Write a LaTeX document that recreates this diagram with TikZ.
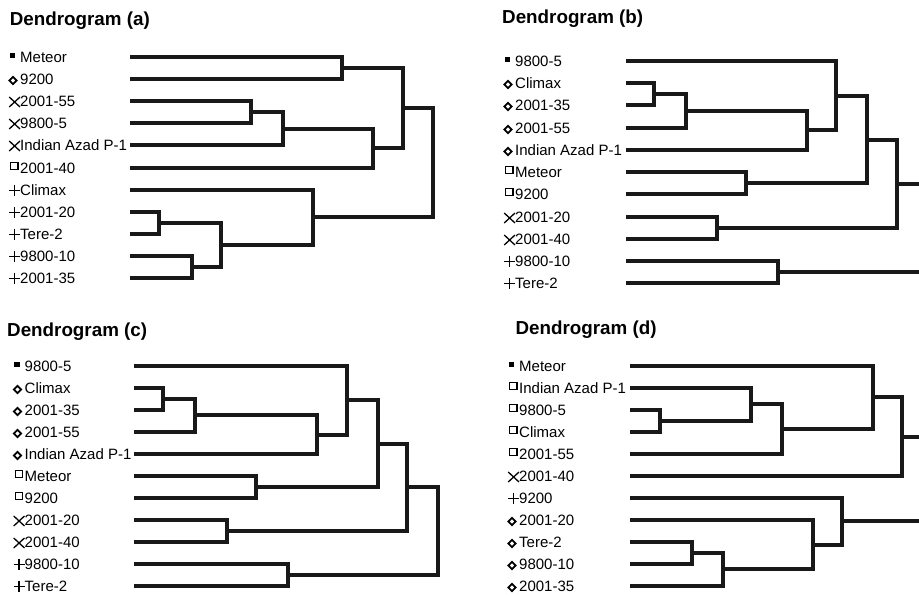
\documentclass[tikz,border=0pt]{standalone}
\usepackage{fontspec}
\setmainfont{Liberation Sans}

% one leaf: label node, its marker, and the start of its branch line
\newcommand\leafrow[6]{%
  \node[lbl] (#1) at (#3,#5+5.5) {#6};
  \pic at (#3,#5) {#2};
  \coordinate (#1e) at (#4,#5);
}
% bracket joining two children at a merge point
\newcommand\brk[3]{\draw[br] (#1) -| (#2) |- (#3);}

\tikzset{
  lbl/.style={anchor=base west, inner sep=0pt, text=black,
              font=\fontsize{15}{16}\selectfont},
  ttl/.style={anchor=base west, inner sep=0pt, text=black,
              font=\bfseries\fontsize{18.8}{20}\selectfont},
  br/.style={line width=3.2pt, draw=black!90},
  fsq/.pic={\fill[black] (-10.2,-4) rectangle (-4.8,1.4);},
  dia/.pic={\draw[line width=1.8pt, black] (-7,-2.1) -- (-3.4,1.5) -- (-7,5.1) -- (-10.6,1.5) -- cycle;},
  xmk/.pic={\draw[line width=1.3pt, black] (-10.8,-4) -- (0,6) (-10.8,6) -- (0,-4);},
  osq/.pic={\draw[line width=1.3pt, black] (-9.2,-5.6) rectangle (-2,1.6);},
  plm/.pic={\draw[line width=1.3pt, black] (-10.8,0.3) -- (0,0.3) (-5.4,-5.1) -- (-5.4,5.7);},
}

\begin{document}
\begin{tikzpicture}[x=1pt, y=-1pt]
\fill[white] (0,0) rectangle (919,596);
\useasboundingbox (0,0) rectangle (919,596);
\coordinate (edge) at (919,0);

% ---------------- Dendrogram (a) ----------------
\node[ttl] (ta) at (9.7,26) {Dendrogram (a)};
\leafrow{a0}{fsq}{20}{130}{57}{Meteor}
\leafrow{a1}{dia}{20}{130}{79}{9200}
\leafrow{a2}{xmk}{20}{130}{101}{2001-55}
\leafrow{a3}{xmk}{20}{130}{123}{9800-5}
\leafrow{a4}{xmk}{20}{130}{145}{Indian Azad P-1}
\leafrow{a5}{osq}{20}{130}{168}{2001-40}
\leafrow{a6}{plm}{20}{130}{190}{Climax}
\leafrow{a7}{plm}{20}{130}{212}{2001-20}
\leafrow{a8}{plm}{20}{130}{234}{Tere-2}
\leafrow{a9}{plm}{20}{130}{256}{9800-10}
\leafrow{a10}{plm}{20}{130}{278}{2001-35}
\coordinate (aj1) at (342,68);  \brk{a0e}{aj1}{a1e}
\coordinate (aj2) at (251,112); \brk{a2e}{aj2}{a3e}
\coordinate (aj3) at (283,129); \brk{aj2}{aj3}{a4e}
\coordinate (aj4) at (373,148); \brk{aj3}{aj4}{a5e}
\coordinate (aj5) at (403,108); \brk{aj1}{aj5}{aj4}
\coordinate (aj6) at (159,223); \brk{a7e}{aj6}{a8e}
\coordinate (aj7) at (192,267); \brk{a9e}{aj7}{a10e}
\coordinate (aj8) at (221,245); \brk{aj6}{aj8}{aj7}
\coordinate (aj9) at (313,217); \brk{a6e}{aj9}{aj8}
\coordinate (aj10) at (433,163); \brk{aj5}{aj10}{aj9}

% ---------------- Dendrogram (b) ----------------
\node[ttl] (tb) at (502,23.3) {Dendrogram (b)};
\leafrow{b0}{fsq}{515}{626}{61}{9800-5}
\leafrow{b1}{dia}{515}{626}{83}{Climax}
\leafrow{b2}{dia}{515}{626}{105}{2001-35}
\leafrow{b3}{dia}{515}{626}{128}{2001-55}
\leafrow{b4}{dia}{515}{626}{150}{Indian Azad P-1}
\leafrow{b5}{osq}{515}{626}{172}{Meteor}
\leafrow{b6}{osq}{515}{626}{194}{9200}
\leafrow{b7}{xmk}{515}{626}{217}{2001-20}
\leafrow{b8}{xmk}{515}{626}{239}{2001-40}
\leafrow{b9}{plm}{515}{626}{261}{9800-10}
\leafrow{b10}{plm}{515}{626}{283}{Tere-2}
\coordinate (bj1) at (654,94);  \brk{b1e}{bj1}{b2e}
\coordinate (bj2) at (686,111); \brk{bj1}{bj2}{b3e}
\coordinate (bj3) at (807,130); \brk{bj2}{bj3}{b4e}
\coordinate (bj4) at (836,96);  \brk{b0e}{bj4}{bj3}
\coordinate (bj5) at (746,183); \brk{b5e}{bj5}{b6e}
\coordinate (bj6) at (867,140); \brk{bj4}{bj6}{bj5}
\coordinate (bj7) at (717,228); \brk{b7e}{bj7}{b8e}
\coordinate (bj8) at (897,184); \brk{bj6}{bj8}{bj7}
\coordinate (bj9) at (778,272); \brk{b9e}{bj9}{b10e}
\draw[br] (bj8) -- (bj8 -| edge);
\draw[br] (bj9) -- (bj9 -| edge);

% ---------------- Dendrogram (c) ----------------
\node[ttl] (tc) at (7,336) {Dendrogram (c)};
\leafrow{c0}{fsq}{24.5}{134}{366}{9800-5}
\leafrow{c1}{dia}{24.5}{134}{388}{Climax}
\leafrow{c2}{dia}{24.5}{134}{410}{2001-35}
\leafrow{c3}{dia}{24.5}{134}{432}{2001-55}
\leafrow{c4}{dia}{24.5}{134}{454}{Indian Azad P-1}
\leafrow{c5}{osq}{24.5}{134}{476}{Meteor}
\leafrow{c6}{osq}{24.5}{134}{498}{9200}
\leafrow{c7}{xmk}{24.5}{134}{520}{2001-20}
\leafrow{c8}{xmk}{24.5}{134}{542}{2001-40}
\leafrow{c9}{plm}{24.5}{134}{564}{9800-10}
\leafrow{c10}{plm}{24.5}{134}{586}{Tere-2}
\coordinate (cj1) at (163,399); \brk{c1e}{cj1}{c2e}
\coordinate (cj2) at (195,415); \brk{cj1}{cj2}{c3e}
\coordinate (cj3) at (317,435); \brk{cj2}{cj3}{c4e}
\coordinate (cj4) at (347,400); \brk{c0e}{cj4}{cj3}
\coordinate (cj5) at (256,487); \brk{c5e}{cj5}{c6e}
\coordinate (cj6) at (378,444); \brk{cj4}{cj6}{cj5}
\coordinate (cj7) at (227,531); \brk{c7e}{cj7}{c8e}
\coordinate (cj8) at (407,487); \brk{cj6}{cj8}{cj7}
\coordinate (cj9) at (288,575); \brk{c9e}{cj9}{c10e}
\coordinate (cj10) at (438,531); \brk{cj8}{cj10}{cj9}

% ---------------- Dendrogram (d) ----------------
\node[ttl] (td) at (515.4,334.3) {Dendrogram (d)};
\leafrow{d0}{fsq}{519}{630}{366}{Meteor}
\leafrow{d1}{osq}{519}{630}{388}{Indian Azad P-1}
\leafrow{d2}{osq}{519}{630}{410}{9800-5}
\leafrow{d3}{osq}{519}{630}{432}{Climax}
\leafrow{d4}{osq}{519}{630}{454}{2001-55}
\leafrow{d5}{xmk}{519}{630}{476}{2001-40}
\leafrow{d6}{plm}{519}{630}{498}{9200}
\leafrow{d7}{dia}{519}{630}{520}{2001-20}
\leafrow{d8}{dia}{519}{630}{542}{Tere-2}
\leafrow{d9}{dia}{519}{630}{564}{9800-10}
\leafrow{d10}{dia}{519}{630}{586}{2001-35}
\coordinate (dj1) at (660,421); \brk{d2e}{dj1}{d3e}
\coordinate (dj2) at (751,404); \brk{d1e}{dj2}{dj1}
\coordinate (dj3) at (782,429); \brk{dj2}{dj3}{d4e}
\coordinate (dj4) at (873,397); \brk{d0e}{dj4}{dj3}
\coordinate (dj5) at (902,437); \brk{dj4}{dj5}{d5e}
\coordinate (dj6) at (692,553); \brk{d8e}{dj6}{d9e}
\coordinate (dj7) at (723,569); \brk{dj6}{dj7}{d10e}
\coordinate (dj8) at (813,545); \brk{d7e}{dj8}{dj7}
\coordinate (dj9) at (842,521); \brk{d6e}{dj9}{dj8}
\draw[br] (dj5) -- (dj5 -| edge);
\draw[br] (dj9) -- (dj9 -| edge);
\end{tikzpicture}
\end{document}
